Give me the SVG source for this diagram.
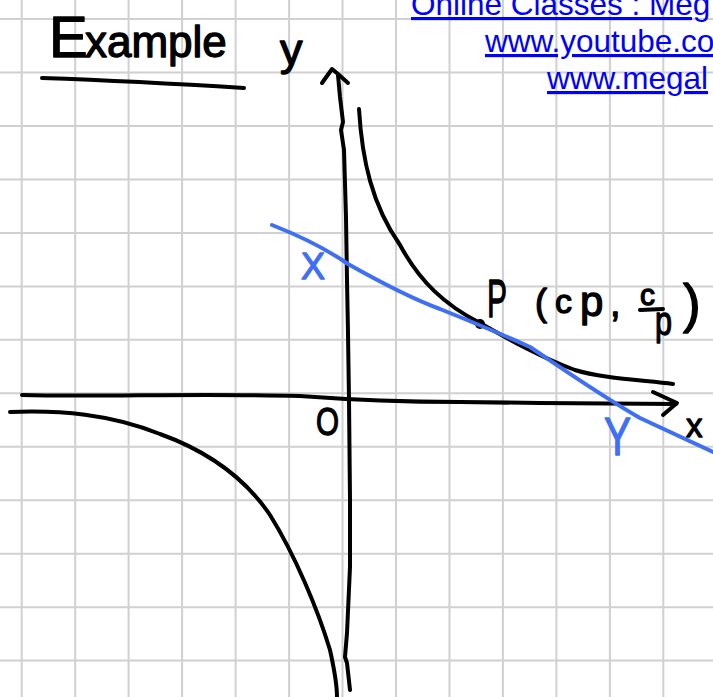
<svg xmlns="http://www.w3.org/2000/svg" width="713" height="697" viewBox="0 0 713 697">
<style>
.grid{stroke:#d0d0d0;stroke-width:2;fill:none}
.ink{stroke:#000;stroke-width:4;fill:none;stroke-linecap:round;stroke-linejoin:round}
.bink{stroke:#3f6ff2;stroke-width:4;fill:none;stroke-linecap:round;stroke-linejoin:round}
.hw{font-family:"Liberation Sans",Arial,sans-serif;fill:#000;stroke:#000;stroke-width:1.3;stroke-linejoin:round}
.hwb{font-family:"Liberation Sans",Arial,sans-serif;fill:#3f6ff2;stroke:#3f6ff2;stroke-width:1.3;stroke-linejoin:round}
.link{font-family:"Liberation Sans",Arial,sans-serif;font-size:31.5px;fill:#0000ff;text-decoration:underline}
</style>
<rect width="713" height="697" fill="#fff"/>
<g id="grid">
<path class="grid" d="M21.7,0V697M75.2,0V697M128.6,0V697M182.1,0V697M235.6,0V697M289.1,0V697M342.5,0V697M396,0V697M449.5,0V697M502.9,0V697M556.4,0V697M609.9,0V697M663.3,0V697M0,19H713M0,72.5H713M0,125.9H713M0,179.4H713M0,232.9H713M0,286.4H713M0,339.8H713M0,393.3H713M0,446.8H713M0,500.2H713M0,553.7H713M0,607.2H713M0,660.6H713"/>
</g>
<g id="links">
<text class="link" x="411" y="15">Online Classes : Meg</text>
<text class="link" x="485" y="52">www.youtube.co</text>
<text class="link" x="547" y="89">www.megal</text>
</g>
<g id="title">
<text class="hw" x="49" y="57"><tspan font-size="58">E</tspan><tspan x="85" font-size="44">xample</tspan></text>
<path class="ink" d="M42,78 C100,80 180,84 244,88"/>
</g>
<g id="axes">
<path class="ink" d="M22,395 C100,397 200,393 300,396 C340,399 400,402 460,402 L540,403 L676,404"/>
<path class="ink" d="M653,392 L677,403 L663,415"/>
<path class="ink" d="M338,75 L340,97 L343,122 L341,130 L344,150 L346,217 L347,280 L348,333 L349,400 L350,500 L350,567 L347,633 L345,657 L347,663 L350,690"/>
<path class="ink" d="M322,83 L332,69 L338,74 L348,83"/>
<text class="hw" x="280" y="65" font-size="45">y</text>
<text class="hw" x="686" y="437" font-size="33">x</text>
<text class="hw" x="316" y="435" font-size="39" textLength="23" lengthAdjust="spacingAndGlyphs">O</text>
</g>
<g id="curves">
<path class="ink" d="M359,109 C362,160 372,205 400,245 C420,282 445,305 480,323 C510,340 540,357 575,370 C600,378 640,380 673,384"/>
<path class="ink" d="M10,412 C60,410 110,414 160,434 C210,452 245,478 270,515 C295,555 318,610 330,650 C334,668 337,685 337,697"/>
<circle cx="480" cy="324" r="5" fill="#000"/>
</g>
<g id="tangent">
<path class="bink" d="M272,225 C300,236 325,248 348,264 C380,282 410,298 440,309 C480,325 510,338 530,347 C560,367 600,395 640,418 L713,452"/>
<text class="hwb" x="301" y="279" font-size="36">X</text>
<text class="hwb" x="604" y="455" font-size="53" textLength="27" lengthAdjust="spacingAndGlyphs">Y</text>
</g>
<g id="point-label">
<text class="hw" x="487" y="317" font-size="54" textLength="20" lengthAdjust="spacingAndGlyphs">P</text>
<text class="hw" x="535" y="315" font-size="36">(</text>
<text class="hw" x="555" y="313" font-size="34">c</text>
<text class="hw" x="580" y="316" font-size="42">p</text>
<text class="hw" x="610" y="316" font-size="38">,</text>
<text class="hw" x="640" y="305" font-size="30">c</text>
<path class="ink" d="M640,310 L663,309"/>
<text class="hw" x="655" y="335" font-size="40" textLength="17" lengthAdjust="spacingAndGlyphs">p</text>
<text class="hw" x="683" y="322" font-size="53">)</text>
</g>
</svg>
